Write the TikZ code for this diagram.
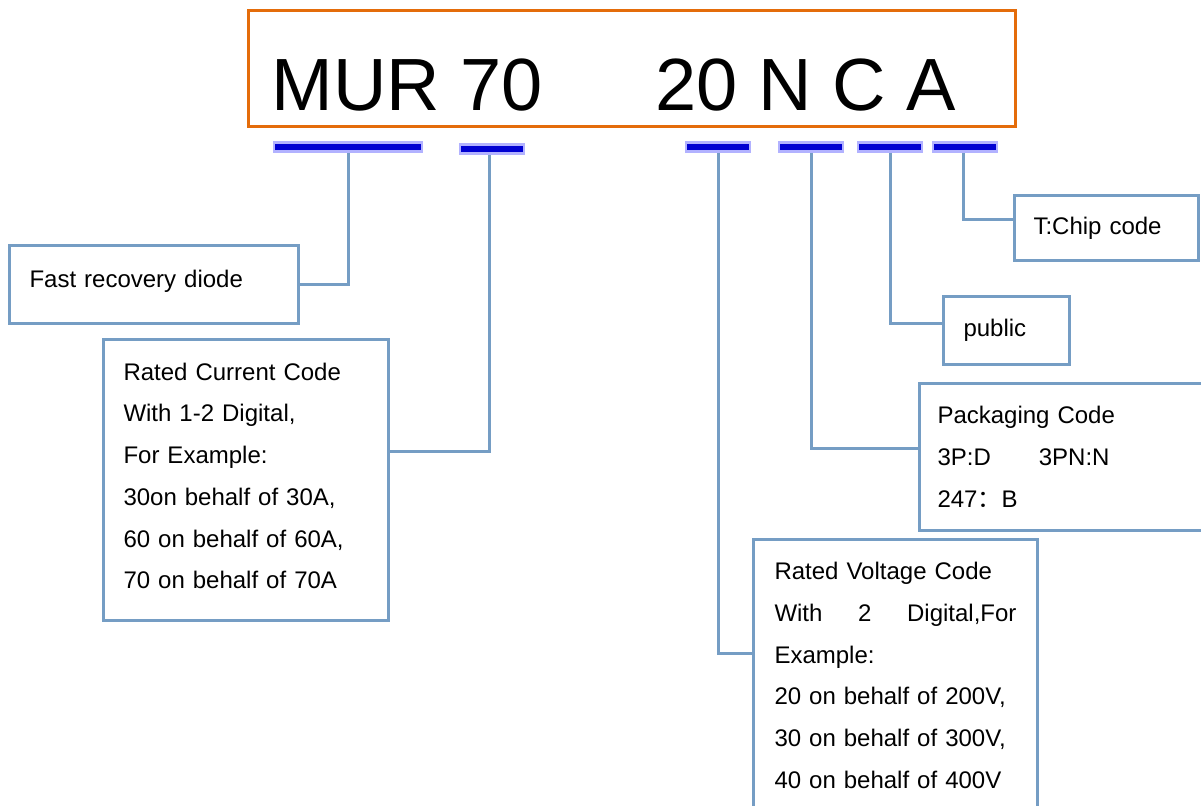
\documentclass[tikz,border=0pt]{standalone}
\usepackage{fontspec}
\setmainfont{Liberation Sans}
\newfontfamily\cjk{Noto Sans CJK SC}
\usetikzlibrary{positioning}
\definecolor{frameorange}{RGB}{228,108,10}
\definecolor{leadblue}{RGB}{117,157,196}
\definecolor{barblue}{RGB}{0,0,210}

\begin{document}
\begin{tikzpicture}[x=0.5pt,y=-0.5pt,
  infobox/.style={draw=leadblue,line width=1.5pt,anchor=north west,inner sep=0pt,align=left,
    font=\fontsize{12}{20.85}\selectfont},
  codebar/.style={fill=barblue,draw=blue!30,line width=1.2pt,minimum height=4.6pt,inner sep=0pt},
  lead/.style={draw=leadblue,line width=1.5pt}]
\useasboundingbox (0,0) rectangle (1201,805);

% part number
\node[draw=frameorange,line width=1.5pt,anchor=north west,minimum width=383.5pt,minimum height=58pt,inner sep=0pt] (partno) at (247,9) {};
\node[anchor=base west,inner sep=0pt,font=\fontsize{37}{40}\selectfont] (mur) at (271,110) {MUR 70};
\node[anchor=base west,inner sep=0pt,font=\fontsize{37}{40}\selectfont] (suffix) at (655,110) {20 N C A};

% bars under the code
\begin{scope}[every node/.style={codebar}]
\node[minimum width=74pt] (bar1) at (348,147) {};
\node[minimum width=32pt] (bar2) at (492,149) {};
\node[minimum width=32pt] (bar3) at (718,147) {};
\node[minimum width=32pt] (bar4) at (811,147) {};
\node[minimum width=32pt] (bar5) at (890,147) {};
\node[minimum width=32pt] (bar6) at (965,147) {};
\end{scope}

% explanations
\node[infobox,minimum width=144.5pt,minimum height=39pt,text width=124.5pt,text depth=5.5pt] (fast) at (8,244) {Fast recovery diode};
\node[infobox,minimum width=142.5pt,minimum height=140.5pt,text width=122.5pt,text depth=108.5pt] (current) at (102,338)
  {Rated Current Code\\With 1-2 Digital,\\For Example:\\30on behalf of 30A,\\60 on behalf of 60A,\\70 on behalf of 70A};
\node[infobox,minimum width=92pt,minimum height=32.5pt,text width=73pt] (chip) at (1013,194) {T:Chip code};
\node[infobox,minimum width=63pt,minimum height=34pt,text width=43pt] (public) at (942,295) {public};
\node[infobox,minimum width=150pt,minimum height=73.5pt,text width=132pt] (packing) at (918,382)
  {Packaging Code\\3P:D\hspace{24pt}3PN:N\\247{\cjk ：}B};
\node[infobox,minimum width=142pt,minimum height=138pt,text width=121pt,text depth=106.5pt] (voltage) at (752,538)
  {Rated Voltage Code\\With\hfill 2\hfill Digital,For\\Example:\\20 on behalf of 200V,\\30 on behalf of 300V,\\40 on behalf of 400V};

% leaders
\begin{scope}[every path/.style={lead}]
\path (bar1.south) |- (fast.east);
\path ([xshift=-1.5pt]bar2.south) |- ([yshift=14.25pt]current.east);
\path (bar3.south) |- ([yshift=12pt]voltage.west);
\path (bar4.south) |- ([yshift=4.25pt]packing.west);
\path (bar5.south) |- ([yshift=3.5pt]public.west);
\path ([xshift=-1pt]bar6.south) |- ([yshift=4.25pt]chip.west);
\end{scope}

\end{tikzpicture}
\end{document}
